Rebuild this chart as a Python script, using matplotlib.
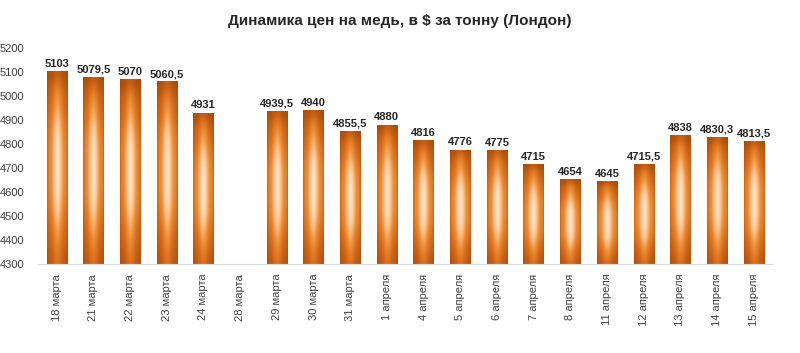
import numpy as np
import matplotlib
matplotlib.use("Agg")
import matplotlib.pyplot as plt
from matplotlib.colors import LinearSegmentedColormap

categories = ["18 марта", "21 марта", "22 марта", "23 марта", "24 марта", "28 марта",
              "29 марта", "30 марта", "31 марта", "1 апреля", "4 апреля", "5 апреля",
              "6 апреля", "7 апреля", "8 апреля", "11 апреля", "12 апреля", "13 апреля",
              "14 апреля", "15 апреля"]
values = [5103, 5079.5, 5070, 5060.5, 4931, np.nan, 4939.5, 4940, 4855.5, 4880,
          4816, 4776, 4775, 4715, 4654, 4645, 4715.5, 4838, 4830.3, 4813.5]
labels = ["5103", "5079,5", "5070", "5060,5", "4931", "", "4939,5", "4940", "4855,5", "4880",
          "4816", "4776", "4775", "4715", "4654", "4645", "4715,5", "4838", "4830,3", "4813,5"]

ymin, ymax = 4300, 5200
plt.rcParams['font.family'] = ['Liberation Sans', 'DejaVu Sans']

fig = plt.figure(figsize=(8.0, 3.53), dpi=100)
ax = fig.add_axes([0.048, 0.252, 0.917, 0.612])

x = np.arange(len(categories))
heights = [0 if np.isnan(v) else v - ymin for v in values]
bars = ax.bar(x, heights, bottom=ymin, width=0.55, color='none', edgecolor='none')

cmap = LinearSegmentedColormap.from_list(
    "copper_grad", ["#95420a", "#b5550e", "#d86e1c", "#ec8f38", "#f9bd84", "#ffe2c4"])
nx, ny = 40, 200
hx = np.linspace(0, 1, nx)
vy = np.linspace(0, 1, ny)  # 0 = top, 1 = bottom
h = np.exp(-((hx - 0.5) / 0.24) ** 2)
h = 0.5 + 0.5 * h
h = h * (1 - 0.3 * np.exp(-(np.minimum(hx, 1 - hx) / 0.05) ** 2))
v = np.exp(-(np.abs(vy - 0.5) / 0.32) ** 3)
v = 0.5 + 0.5 * v
v = v * (1 - 0.45 * np.exp(-(vy / 0.07) ** 2))
v = v * (1 - 0.15 * np.exp(-((1 - vy) / 0.08) ** 2))
L = np.clip(np.outer(v, h), 0, 1)

for b, val in zip(bars, values):
    if np.isnan(val):
        continue
    x0 = b.get_x()
    x1 = x0 + b.get_width()
    y1 = b.get_y() + b.get_height()
    im = ax.imshow(L, cmap=cmap, vmin=0, vmax=1, extent=(x0, x1, ymin, y1),
                   aspect='auto', origin='upper', interpolation='bilinear', zorder=2)
    im.set_clip_path(b)

for xi, val, lab in zip(x, values, labels):
    if np.isnan(val):
        continue
    ax.text(xi, val + 10, lab, ha='center', va='bottom', fontsize=8,
            fontweight='bold', color='#262626')

ax.set_xlim(-0.5, len(categories) - 0.5)
ax.set_ylim(ymin, ymax)
ax.set_yticks(np.arange(4300, 5201, 100))
ax.set_xticks(x)
ax.set_xticklabels(categories, rotation=90, fontsize=8, color='#404040')
ax.tick_params(axis='y', labelsize=8, colors='#404040', length=0, pad=10)
ax.tick_params(axis='x', length=0, pad=7)
for s in ['top', 'right', 'left']:
    ax.spines[s].set_visible(False)
ax.spines['bottom'].set_color('#d9d9d9')

fig.text(0.5, 0.94, "Динамика цен на медь, в $ за тонну (Лондон)", ha='center',
         va='center', fontsize=11, fontweight='bold', color='#262626')

fig.savefig("out.png", dpi=100)
